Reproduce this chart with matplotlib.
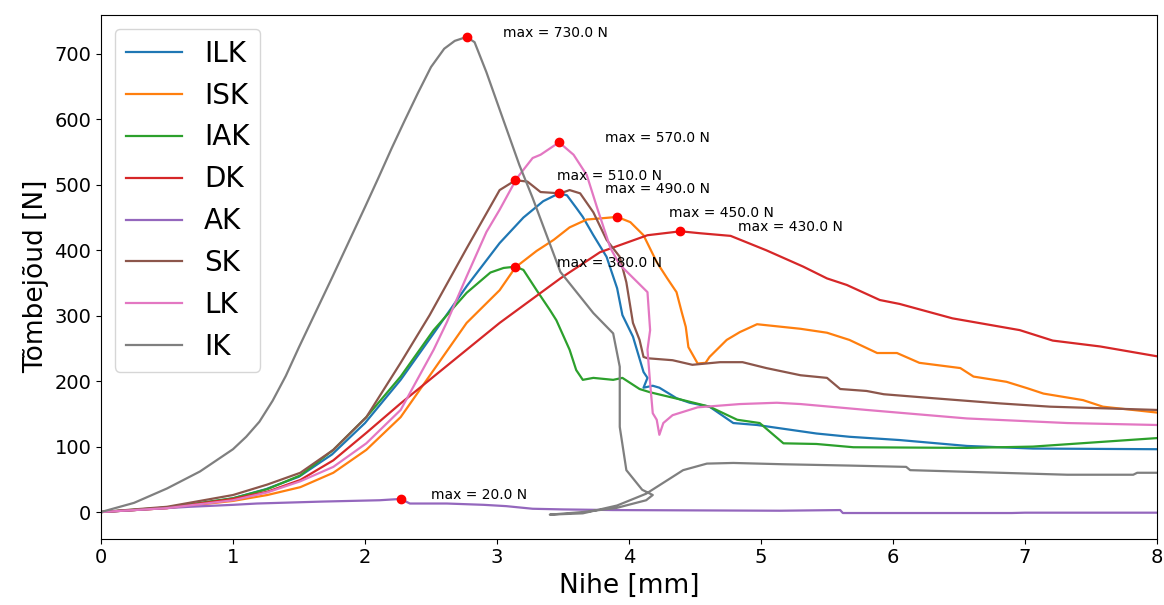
import matplotlib
matplotlib.use("Agg")
import matplotlib.pyplot as plt
import numpy as np

names = ["ILK", "ISK", "IAK", "DK", "AK", "SK", "LK", "IK"]
max_labels = [490.0, 450.0, 380.0, 430.0, 20.0, 510.0, 570.0, 730.0]

ilk_x = [0, 0.25, 0.5, 0.75, 1.0, 1.25, 1.5, 1.75, 2.0, 2.27, 2.52, 2.77, 3.02, 3.2, 3.35, 3.47,
         3.53, 3.6, 3.65, 3.73, 3.83, 3.91, 3.95, 4.03, 4.11, 4.14, 4.11, 4.18, 4.23, 4.36, 4.46,
         4.61, 4.79, 4.97, 5.42, 5.67, 6.05, 6.56, 7.06, 8.0]
ilk_y = [0, 3, 7, 13, 21, 35, 54, 88, 136, 202, 273, 345, 411, 450, 475, 487,
         484, 465, 451, 423, 390, 342, 301, 268, 214, 205, 190, 193, 190, 174, 167,
         161, 136, 133, 120, 115, 110, 101, 97, 96]

isk_x = [0, 0.5, 1.0, 1.26, 1.51, 1.76, 2.01, 2.27, 2.52, 2.77, 3.02, 3.14, 3.3, 3.43, 3.55,
         3.68, 3.8, 3.91, 4.01, 4.11, 4.21, 4.29, 4.36, 4.40, 4.43, 4.45, 4.52, 4.58, 4.61, 4.74,
         4.84, 4.97, 5.30, 5.50, 5.67, 5.88, 6.03, 6.20, 6.51, 6.61, 6.86, 7.02, 7.14, 7.44,
         7.59, 8.0]
isk_y = [0, 6, 17, 26, 38, 60, 95, 145, 217, 289, 339, 374, 399, 416, 435,
         447, 449, 451, 443, 423, 382, 357, 336, 305, 283, 252, 227, 228, 237, 263,
         275, 287, 280, 274, 263, 243, 243, 228, 220, 207, 199, 189, 181, 171,
         161, 152]

iak_x = [0, 0.5, 1.0, 1.26, 1.51, 1.76, 2.01, 2.27, 2.52, 2.77, 2.95, 3.05, 3.14, 3.2, 3.3,
         3.4, 3.45, 3.55, 3.6, 3.65, 3.73, 3.88, 3.95, 4.08, 4.16, 4.41, 4.61, 4.82, 4.99,
         5.17, 5.42, 5.70, 6.56, 7.06, 8.0]
iak_y = [0, 7, 21, 35, 56, 95, 145, 207, 278, 335, 366, 373, 375, 370, 339,
         309, 293, 248, 217, 202, 205, 202, 205, 188, 183, 171, 161, 141, 136,
         105, 104, 99, 98, 100, 113]

dk_x = [0, 0.5, 1.0, 1.26, 1.51, 1.76, 2.01, 2.27, 2.52, 2.77, 3.02, 3.48, 3.78, 4.14, 4.39,
        4.54, 4.77, 5.04, 5.32, 5.50, 5.65, 5.90, 6.05, 6.45, 6.96, 7.21, 7.57, 8.0]
dk_y = [0, 6, 20, 31, 49, 79, 121, 166, 207, 248, 289, 357, 397, 423, 429,
        426, 422, 400, 375, 357, 347, 324, 318, 296, 278, 262, 253, 238]

ak_x = [0, 0.33, 0.67, 1.0, 1.18, 1.68, 2.11, 2.27, 2.34, 2.62, 2.9, 3.07, 3.27, 3.5, 3.88,
        5.14, 5.6, 5.62, 6.9, 7.0, 8.0]
ak_y = [0, 4, 8, 11, 13, 16, 18, 20, 13, 13, 11, 9, 5, 4, 3,
        2, 3, -1.5, -1.5, -1, -1]

sk_x = [0, 0.5, 1.0, 1.26, 1.51, 1.76, 2.01, 2.27, 2.49, 2.77, 3.02, 3.14, 3.23, 3.33, 3.48,
        3.55, 3.63, 3.73, 3.83, 3.93, 3.98, 4.03, 4.08, 4.11, 4.14, 4.33, 4.48, 4.69, 4.86,
        5.04, 5.30, 5.50, 5.60, 5.80, 5.93, 6.30, 6.81, 7.19, 8.0]
sk_y = [0, 8, 26, 42, 60, 95, 145, 228, 301, 403, 492, 507, 505, 489, 487,
        492, 487, 458, 416, 390, 351, 289, 263, 237, 235, 232, 225, 229, 229,
        220, 209, 205, 188, 185, 180, 174, 166, 161, 156]

lk_x = [0, 0.5, 1.0, 1.26, 1.51, 1.76, 2.01, 2.27, 2.52, 2.62, 2.77, 2.92, 3.02, 3.15, 3.27,
        3.33, 3.47, 3.58, 3.68, 3.76, 3.86, 3.93, 4.06, 4.14, 4.16, 4.14, 4.16, 4.18, 4.21,
        4.23, 4.26, 4.33, 4.52, 4.84, 5.12, 5.30, 5.80, 6.56, 7.32, 8.0]
lk_y = [0, 6, 18, 30, 47, 69, 105, 156, 248, 290, 360, 428, 462, 510, 541,
        546, 565, 546, 515, 464, 403, 378, 352, 336, 278, 248, 197, 151, 141,
        118, 136, 148, 160, 165, 167, 165, 156, 143, 136, 133]

ik_x = [0, 0.25, 0.5, 0.75, 1.0, 1.1, 1.2, 1.3, 1.4, 1.5, 1.75, 2.0, 2.1, 2.2, 2.3,
        2.4, 2.5, 2.6, 2.68, 2.77, 2.83, 2.92, 3.05, 3.17, 3.27, 3.48, 3.73, 3.88, 3.93,
        3.93, 3.98, 4.10, 4.18, 4.13, 3.90, 3.65, 3.40, 3.65, 3.91, 4.13, 4.41, 4.59, 4.79,
        5.17, 5.67, 6.10, 6.13, 7.32, 7.82, 7.85, 8.0]
ik_y = [0, 14, 36, 62, 96, 115, 138, 170, 208, 252, 358, 466, 510, 555, 598,
        640, 680, 708, 720, 726, 718, 672, 598, 530, 480, 367, 304, 273, 222,
        130, 64, 34, 26, 18, 6, 0, -4, -2, 10, 28, 64, 74, 75,
        73, 71, 69, 64, 57, 57, 60, 60]

series_x = [ilk_x, isk_x, iak_x, dk_x, ak_x, sk_x, lk_x, ik_x]
series_y = [ilk_y, isk_y, iak_y, dk_y, ak_y, sk_y, lk_y, ik_y]
colors = ["#1f77b4", "#ff7f0e", "#2ca02c", "#d62728", "#9467bd", "#8c564b", "#e377c2", "#7f7f7f"]

fig = plt.figure(figsize=(11.64, 6.05), dpi=100)
ax = fig.add_axes([101/1164, (605-538.6)/605, (1157-101)/1164, (538.6-14.7)/605])

for name, xs, ys, c in zip(names, series_x, series_y, colors):
    ax.plot(xs, ys, color=c, lw=1.6, label=name)

for xs, ys, lab in zip(series_x, series_y, max_labels):
    i = int(np.argmax(ys))
    xm, ym = xs[i], ys[i]
    ax.plot(xm, ym, "ro")
    ax.text(1.1 * xm, ym, f"max = {lab:.1f} N", fontsize=10)

ax.set_xlim(0, 8)
ax.set_ylim(-40.6, 760)
ax.set_xlabel("Nihe [mm]", fontsize=19)
ax.set_ylabel("Tõmbejõud [N]", fontsize=19)
ax.tick_params(labelsize=14)
ax.legend(loc="upper left", fontsize=20)

fig.savefig("out.png", dpi=100)
